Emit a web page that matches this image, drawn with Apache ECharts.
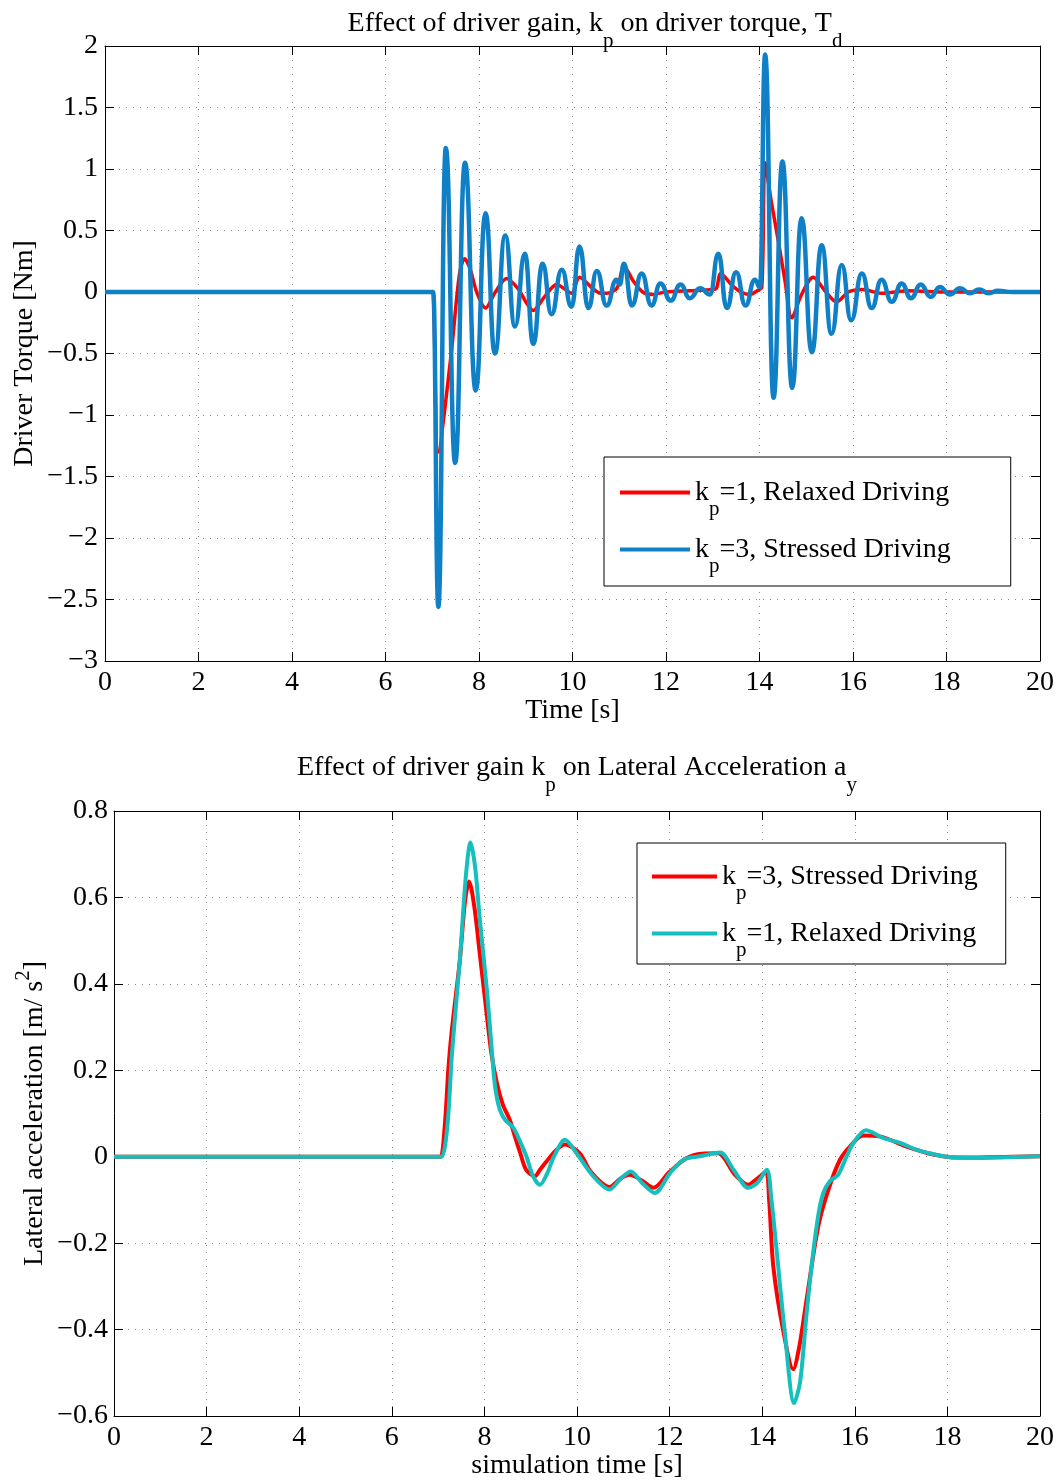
<!DOCTYPE html>
<html>
<head>
<meta charset="utf-8">
<script src="https://cdn.jsdelivr.net/npm/echarts@6/dist/echarts.min.js"></script>
<style>
html,body{margin:0;padding:0;background:#fff;}
#chart{width:1061px;height:1482px;}
</style>
</head>
<body>
<div id="chart"></div>
<script>
// ---------- DATA ----------
// Top plot: driver torque T_d [Nm] vs time [s]
const torqueRelaxed_kp1 = [
  [0,0],[7.0,0],[7.03,-0.08],[7.13,-1.30],[7.4,-0.52],[7.58,0.14],[7.69,0.27],[7.8,0.2],[7.95,0.0],
  [8.14,-0.13],[8.35,0.0],[8.59,0.11],[8.85,0.02],[9.0,-0.08],[9.16,-0.15],[9.4,-0.04],[9.66,0.06],
  [9.85,0.02],[9.98,-0.01],[10.15,0.12],[10.4,0.04],[10.6,-0.01],[10.73,-0.01],[10.95,0.03],[11.10,0.21],
  [11.3,0.09],[11.5,0.0],[11.7,-0.02],[12.0,0.0],[12.5,0.01],[13.0,0.02],[13.08,0.03],[13.17,0.15],
  [13.4,0.06],[13.6,0.0],[13.8,-0.02],[13.95,0.01],[14.05,0.04],[14.12,1.05],[14.25,0.74],[14.4,0.42],
  [14.55,0.08],[14.69,-0.21],[14.9,-0.02],[15.15,0.12],[15.4,0.01],[15.65,-0.08],[15.9,0.0],[16.2,0.02],
  [16.6,-0.01],[17.2,0.01],[18,0],[20,0]
];
const torqueStressed_kp3 = [
  [0,0],[7.0,0],[7.02,0],[7.13,-2.56],[7.29,1.17],[7.49,-1.39],[7.70,1.05],[7.93,-0.80],[8.14,0.64],
  [8.34,-0.50],[8.56,0.46],[8.77,-0.28],[8.98,0.31],[9.16,-0.42],[9.36,0.23],[9.55,-0.18],[9.77,0.18],
  [9.98,-0.12],[10.15,0.37],[10.34,-0.13],[10.52,0.17],[10.73,-0.11],[10.94,0.10],[11.01,0.06],[11.10,0.23],
  [11.27,-0.11],[11.48,0.15],[11.69,-0.11],[11.88,0.07],[12.10,-0.07],[12.31,0.06],[12.51,-0.05],[12.73,0.03],
  [12.94,-0.02],[13.12,0.31],[13.30,-0.13],[13.50,0.16],[13.70,-0.11],[13.90,0.10],[14.01,0.04],[14.12,1.93],
  [14.30,-0.86],[14.49,1.06],[14.70,-0.78],[14.90,0.60],[15.12,-0.49],[15.33,0.38],[15.54,-0.34],[15.76,0.22],
  [15.96,-0.23],[16.19,0.15],[16.40,-0.13],[16.61,0.10],[16.83,-0.08],[17.04,0.07],[17.24,-0.05],[17.45,0.06],
  [17.66,-0.04],[17.86,0.04],[18.07,-0.02],[18.29,0.03],[18.50,-0.01],[18.70,0.02],[18.90,-0.01],[19.10,0.01],
  [19.40,0],[20,0]
];
// Bottom plot: lateral acceleration a_y [m/s^2] vs simulation time [s]
const accelStressed_kp3 = [
  [0,0],[7.0,0],[7.06,0.0],[7.15,0.08],[7.22,0.2],[7.29,0.286],[7.47,0.455],[7.58,0.59],[7.67,0.637],
  [7.78,0.58],[7.9,0.47],[8.05,0.33],[8.15,0.24],[8.27,0.17],[8.4,0.12],[8.55,0.085],[8.65,0.05],
  [8.77,0.01],[8.9,-0.03],[9.09,-0.045],[9.2,-0.03],[9.35,-0.01],[9.55,0.015],[9.74,0.028],[10.06,0.008],
  [10.3,-0.035],[10.70,-0.07],[10.95,-0.05],[11.14,-0.042],[11.4,-0.055],[11.65,-0.072],[12.0,-0.035],
  [12.37,-0.003],[12.7,0.007],[13.05,0.008],[13.4,-0.04],[13.70,-0.065],[13.9,-0.05],[14.08,-0.035],
  [14.15,-0.1],[14.24,-0.254],[14.45,-0.40],[14.67,-0.492],[14.8,-0.44],[14.96,-0.33],[15.21,-0.161],
  [15.43,-0.076],[15.68,-0.007],[15.90,0.024],[16.18,0.049],[16.54,0.047],[17.1,0.024],[17.7,0.005],
  [18.2,-0.002],[19,-0.001],[20,0.001]
];
const accelRelaxed_kp1 = [
  [0,0],[7.0,0],[7.08,0.0],[7.2,0.07],[7.3,0.24],[7.47,0.455],[7.6,0.65],[7.70,0.727],[7.8,0.67],
  [7.9,0.55],[8.05,0.39],[8.15,0.26],[8.23,0.163],[8.33,0.11],[8.45,0.085],[8.62,0.068],[8.75,0.04],
  [8.91,0.0],[9.05,-0.045],[9.2,-0.065],[9.35,-0.04],[9.5,0.0],[9.74,0.039],[9.99,0.008],[10.35,-0.045],
  [10.70,-0.076],[10.95,-0.05],[11.16,-0.034],[11.4,-0.06],[11.68,-0.084],[12.01,-0.038],[12.30,-0.007],
  [12.66,0.001],[13.09,0.01],[13.38,-0.03],[13.70,-0.072],[13.9,-0.06],[14.10,-0.03],[14.2,-0.1],
  [14.31,-0.215],[14.49,-0.408],[14.69,-0.570],[14.82,-0.52],[14.96,-0.361],[15.10,-0.223],[15.22,-0.13],
  [15.32,-0.084],[15.46,-0.057],[15.64,-0.042],[15.82,0.0],[15.96,0.03],[16.24,0.061],[16.62,0.043],
  [16.98,0.032],[17.34,0.016],[17.70,0.006],[17.98,0.0],[18.56,-0.003],[19.3,-0.001],[20,0.001]
];
// Axis ranges / ticks
const timeRange = {min: 0, max: 20, interval: 2};
const torqueRange = {min: -3, max: 2, interval: 0.5};
const accelRange = {min: -0.6, max: 0.8, interval: 0.2};
// Text
const topTitle = '{n|Effect of driver gain, k}{s|p}{n| on driver torque, T}{s|d}';
const bottomTitle = '{n|Effect of driver gain k}{s|p}{n| on Lateral Acceleration a}{s|y}';
const legendLabels = {
  top1: '{n|k}{s|p}{n|=1, Relaxed Driving}',
  top3: '{n|k}{s|p}{n|=3, Stressed Driving}',
  bot3: '{n|k}{s|p}{n|=3, Stressed Driving}',
  bot1: '{n|k}{s|p}{n|=1, Relaxed Driving}'
};

// ---------- STYLE ----------
const FONT = 'Liberation Serif';
const FS = 28;
const rich = {
  n: {fontFamily: FONT, fontSize: FS, color: '#000', lineHeight: 32},
  s: {fontFamily: FONT, fontSize: 21, color: '#000', lineHeight: 32, padding: [34, 0, 0, 0]},
  sup: {fontFamily: FONT, fontSize: 21, color: '#000', lineHeight: 32, padding: [0, 0, 24, 0]}
};
const RED = '#ff0000', BLUE = '#1080c6', CYAN = '#14bfbe';
const fmt = v => String(Math.round(v * 100) / 100).replace('-', '\u2212');

function mainX(gridIndex, name) {
  return Object.assign({
    type: 'value', gridIndex, position: 'bottom',
    name, nameLocation: 'middle', nameGap: 36, nameMoveOverlap: false,
    nameTextStyle: {fontFamily: FONT, fontSize: FS, color: '#000'},
    axisLine: {show: true, onZero: false, lineStyle: {color: '#000', width: 1}},
    axisTick: {show: true, inside: true, length: 9, lineStyle: {color: '#000'}},
    axisLabel: {fontFamily: FONT, fontSize: FS, color: '#000', margin: 8},
    splitLine: {show: true, lineStyle: {color: '#8a8a8a', width: 1, type: [1, 6]}}
  }, timeRange);
}
function sideX(gridIndex) {
  return Object.assign({
    type: 'value', gridIndex, position: 'top',
    axisLine: {show: true, onZero: false, lineStyle: {color: '#000', width: 1}},
    axisTick: {show: true, inside: true, length: 9, lineStyle: {color: '#000'}},
    axisLabel: {show: false}, splitLine: {show: false}
  }, timeRange);
}
function mainY(gridIndex, name, range, gap, margin) {
  return Object.assign({
    type: 'value', gridIndex, position: 'left',
    name, nameLocation: 'middle', nameGap: gap, nameMoveOverlap: false,
    nameTextStyle: {fontFamily: FONT, fontSize: FS, color: '#000', rich},
    axisLine: {show: true, onZero: false, lineStyle: {color: '#000', width: 1}},
    axisTick: {show: true, inside: true, length: 9, lineStyle: {color: '#000'}},
    axisLabel: {fontFamily: FONT, fontSize: FS, color: '#000', margin, formatter: fmt},
    splitLine: {show: true, lineStyle: {color: '#8a8a8a', width: 1, type: [1, 6]}}
  }, range);
}
function sideY(gridIndex, range) {
  return Object.assign({
    type: 'value', gridIndex, position: 'right',
    axisLine: {show: true, onZero: false, lineStyle: {color: '#000', width: 1}},
    axisTick: {show: true, inside: true, length: 9, lineStyle: {color: '#000'}},
    axisLabel: {show: false}, splitLine: {show: false}
  }, range);
}
function legend(data, left, top, itemWidth, padding) {
  return {
    data, left, top, orient: 'vertical', icon: 'rect',
    itemWidth, itemHeight: 4, itemGap: 2, padding,
    borderColor: '#000', borderWidth: 1, backgroundColor: '#fff',
    selectedMode: false,
    formatter: n => legendLabels[n],
    textStyle: {fontFamily: FONT, fontSize: FS, color: '#000', rich}
  };
}

const chart = echarts.init(document.getElementById('chart'), null, {renderer: 'canvas'});
chart.setOption({
  animation: false,
  backgroundColor: '#fff',
  title: [
    {text: topTitle, left: 595, top: 8, textAlign: 'center', padding: 0,
     textStyle: {fontFamily: FONT, fontSize: FS, fontWeight: 'normal', color: '#000', rich}},
    {text: bottomTitle, left: 577, top: 752, textAlign: 'center', padding: 0,
     textStyle: {fontFamily: FONT, fontSize: FS, fontWeight: 'normal', color: '#000', rich}}
  ],
  grid: [
    {left: 105, top: 46, width: 935, height: 615, outerBoundsMode: 'none', containLabel: false},
    {left: 114, top: 811, width: 926, height: 605, outerBoundsMode: 'none', containLabel: false}
  ],
  xAxis: [mainX(0, 'Time [s]'), sideX(0), mainX(1, 'simulation time [s]'), sideX(1)],
  yAxis: [
    mainY(0, 'Driver Torque [Nm]', torqueRange, 66, 7), sideY(0, torqueRange),
    mainY(1, '{n|Lateral acceleration [m/ s}{sup|2}{n|]}', accelRange, 63, 6), sideY(1, accelRange)
  ],
  legend: [
    legend(['top1', 'top3'], 604, 457, 70, [8, 60, 9, 16]),
    legend(['bot3', 'bot1'], 637, 843, 65, [6, 28, 3, 15])
  ],
  series: [
    {name: 'top1', type: 'line', xAxisIndex: 0, yAxisIndex: 0, data: torqueRelaxed_kp1,
     showSymbol: false, symbol: 'none', smooth: 0.3, color: RED, lineStyle: {color: RED, width: 3.5}},
    {name: 'top3', type: 'line', xAxisIndex: 0, yAxisIndex: 0, data: torqueStressed_kp3,
     showSymbol: false, symbol: 'none', smooth: 0.5, smoothMonotone: 'x', color: BLUE, lineStyle: {color: BLUE, width: 4.5}},
    {name: 'bot3', type: 'line', xAxisIndex: 2, yAxisIndex: 2, data: accelStressed_kp3,
     showSymbol: false, symbol: 'none', smooth: 0.3, color: RED, lineStyle: {color: RED, width: 4}},
    {name: 'bot1', type: 'line', xAxisIndex: 2, yAxisIndex: 2, data: accelRelaxed_kp1,
     showSymbol: false, symbol: 'none', smooth: 0.3, color: CYAN, lineStyle: {color: CYAN, width: 4}}
  ]
});
</script>
</body>
</html>
